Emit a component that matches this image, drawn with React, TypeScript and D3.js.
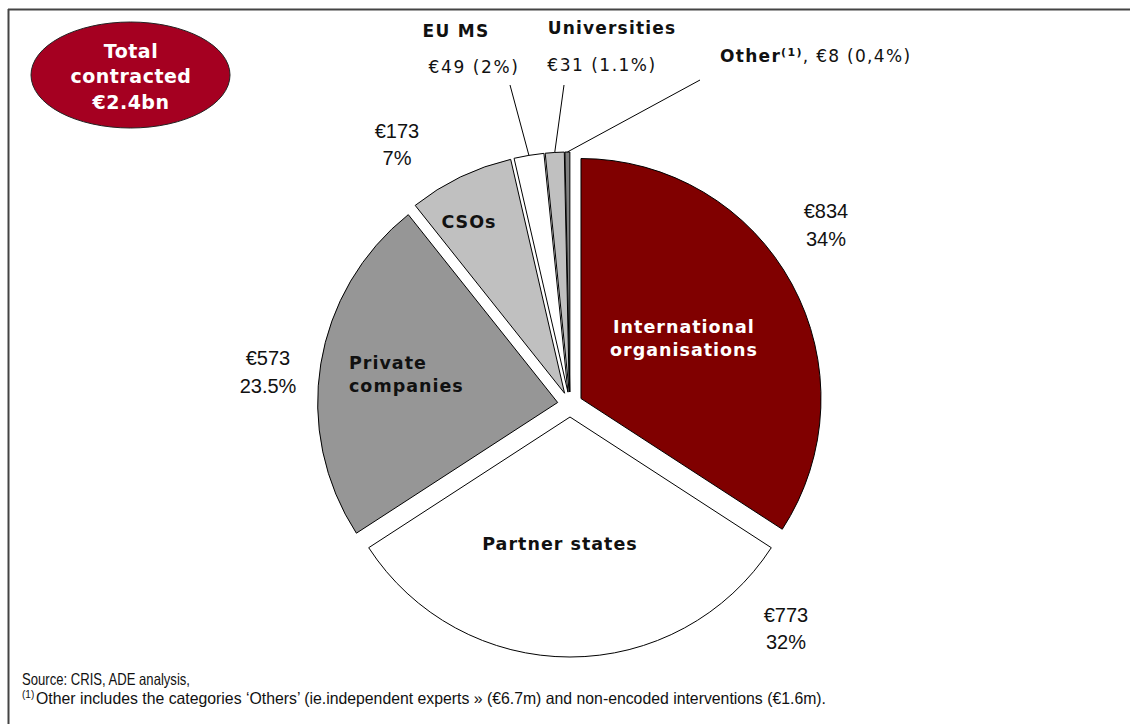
import * as d3 from 'd3';

const categories = ['International organisations', 'Partner states', 'Private companies', 'CSOs', 'EU MS', 'Universities', 'Other'];
const values = [834, 773, 573, 173, 49, 31, 8];
const valueLabels = ['€834', '€773', '€573', '€173', '€49 (2%)', '€31 (1.1%)', '€8 (0,4%)'];
const shareLabels = ['34%', '32%', '23.5%', '7%', '2%', '1.1%', '0,4%'];
const colors = ['#800000', '#ffffff', '#969696', '#c0c0c0', '#ffffff', '#c0c0c0', '#808080'];

const W = 1130;
const H = 724;
const cx = 570;
const cy = 404.5;
const R = 240;
const explode = 12.5;

const bold = "'DejaVu Sans', Verdana, sans-serif";
const arial = "'Liberation Sans', Arial, sans-serif";

export default function App() {
  const pie = d3.pie<number>().sort(null).value(d => d);
  const arcs = pie(values);
  const arc = d3.arc<d3.PieArcDatum<number>>().innerRadius(0).outerRadius(R);

  const offset = (a: d3.PieArcDatum<number>) => {
    const m = (a.startAngle + a.endAngle) / 2;
    return [Math.sin(m) * explode, -Math.cos(m) * explode];
  };
  // point on outer edge of an exploded slice, for the leader lines
  const edge = (i: number) => {
    const a = arcs[i];
    const m = (a.startAngle + a.endAngle) / 2;
    return [cx + Math.sin(m) * (R + explode), cy - Math.cos(m) * (R + explode)];
  };

  return (
    <svg width={W} height={H} style={{ position: 'absolute', left: 0, top: 0, background: '#fff' }}>
      {/* frame */}
      <line x1={8.5} y1={9} x2={8.5} y2={H} stroke="#444" strokeWidth={2} />
      <line x1={8} y1={9.5} x2={W} y2={9.5} stroke="#444" strokeWidth={2} />

      {/* total bubble */}
      <ellipse cx={130.5} cy={75} rx={99.5} ry={53} fill="#a50021" stroke="#222" strokeWidth={1} />
      <g fill="#fff" fontFamily={bold} fontWeight="bold" fontSize={19} letterSpacing={0.5} textAnchor="middle">
        <text x={131} y={58}>Total</text>
        <text x={131} y={83}>contracted</text>
        <text x={131} y={109}>€2.4bn</text>
      </g>

      {/* slices */}
      <g transform={`translate(${cx},${cy})`}>
        {arcs.map((a, i) => {
          const [dx, dy] = offset(a);
          return (
            <path key={categories[i]} d={arc(a) || ''} transform={`translate(${dx},${dy})`}
              fill={colors[i]} stroke="#000" strokeWidth={1} strokeLinejoin="round" />
          );
        })}
      </g>

      {/* inside labels */}
      <g fontFamily={bold} fontWeight="bold" fontSize={17.5} letterSpacing={1}>
        <text x={684} y={333} textAnchor="middle" fill="#fff">International</text>
        <text x={684} y={356} textAnchor="middle" fill="#fff">organisations</text>
        <text x={560} y={550} textAnchor="middle" fill="#111">Partner states</text>
        <text x={349} y={369} fill="#111">Private</text>
        <text x={349} y={392} fill="#111">companies</text>
        <text x={469} y={228} textAnchor="middle" fill="#111">CSOs</text>
      </g>

      {/* outside value labels */}
      <g fontFamily={arial} fontSize={20} textAnchor="middle" fill="#111">
        <text x={826} y={218}>{valueLabels[0]}</text>
        <text x={826} y={246}>{shareLabels[0]}</text>
        <text x={786} y={622}>{valueLabels[1]}</text>
        <text x={786} y={649}>{shareLabels[1]}</text>
        <text x={268} y={365}>{valueLabels[2]}</text>
        <text x={268} y={393}>{shareLabels[2]}</text>
        <text x={397} y={138}>{valueLabels[3]}</text>
        <text x={397} y={165}>{shareLabels[3]}</text>
      </g>

      {/* small slices with leader lines */}
      <g stroke="#000" strokeWidth={1}>
        <line x1={510} y1={85} x2={edge(4)[0]} y2={edge(4)[1]} />
        <line x1={564} y1={85} x2={edge(5)[0]} y2={edge(5)[1]} />
        <line x1={700} y1={80} x2={edge(6)[0]} y2={edge(6)[1]} />
      </g>
      <g fontFamily={bold} fill="#111" fontSize={17}>
        <text x={456} y={37} textAnchor="middle" fontWeight="bold" letterSpacing={1.3}>{categories[4]}</text>
        <text x={474} y={73} textAnchor="middle" letterSpacing={1.6}>{valueLabels[4]}</text>
        <text x={612} y={34} textAnchor="middle" fontWeight="bold" letterSpacing={1.2}>{categories[5]}</text>
        <text x={602} y={71} textAnchor="middle" letterSpacing={1.5}>{valueLabels[5]}</text>
        <text x={720} y={62} letterSpacing={1.3}>
          <tspan fontWeight="bold">Other</tspan>
          <tspan fontWeight="bold" fontSize={11} dy={-6}>(1)</tspan>
          <tspan dy={6}>, {valueLabels[6]}</tspan>
        </text>
      </g>

      {/* footnotes */}
      <g fontFamily={arial} fontSize={16.5} fill="#111">
        <text x={22} y={685} textLength={168} lengthAdjust="spacingAndGlyphs">Source: CRIS, ADE analysis,</text>
        <text x={22} y={698} fontSize={10}>(1)</text>
        <text x={36} y={704} textLength={790} lengthAdjust="spacingAndGlyphs">Other includes the categories ‘Others’ (ie.independent experts » (€6.7m) and non-encoded interventions (€1.6m).</text>
      </g>
    </svg>
  );
}
